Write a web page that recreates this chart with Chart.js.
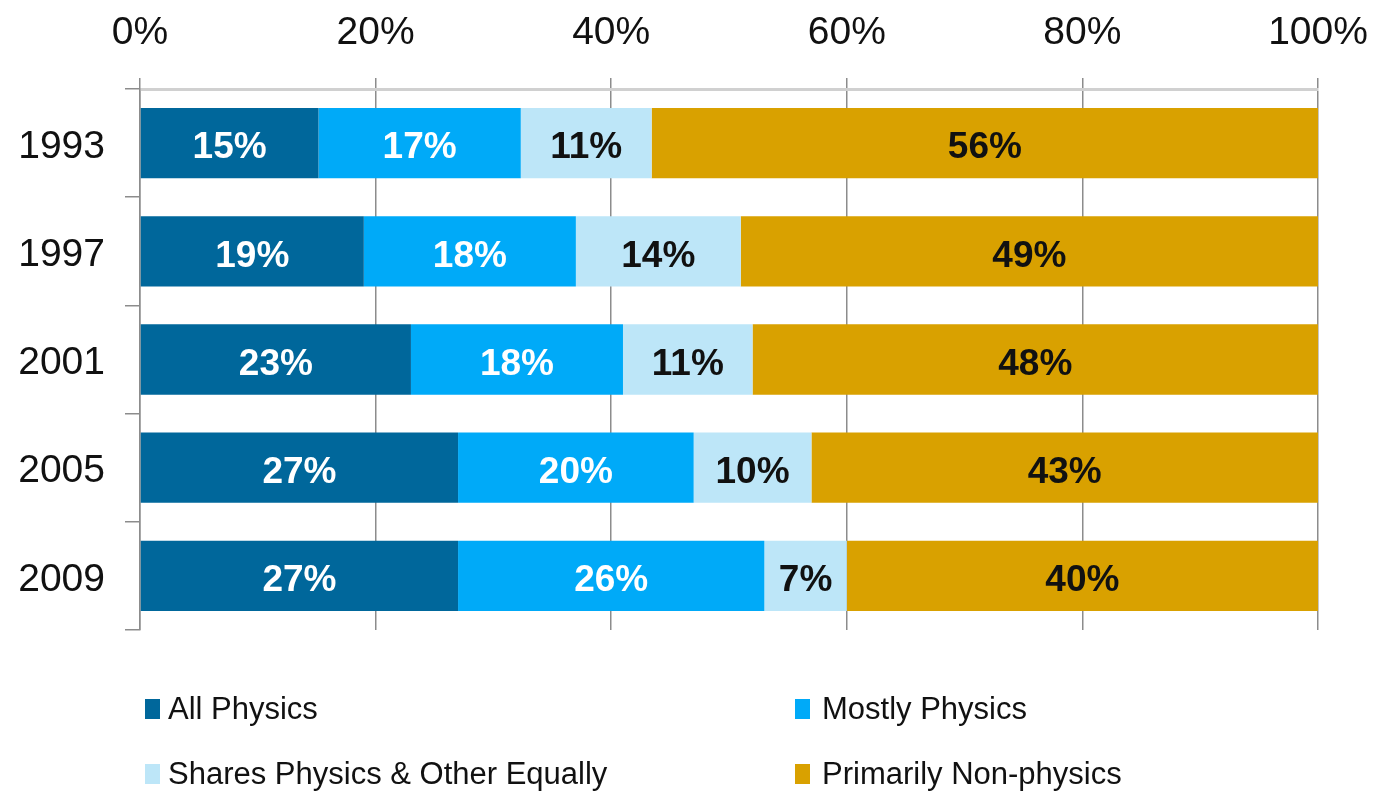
<!DOCTYPE html>
<html>
<head>
<meta charset="utf-8">
<script src="https://cdn.jsdelivr.net/npm/chart.js@4"></script>
<style>
  html, body { margin: 0; padding: 0; background: #fff; }
  #wrap { position: relative; width: 1373px; height: 795px; font-family: "Liberation Sans", Arial, sans-serif; }
  #chart { position: absolute; left: 0; top: 0; }
  .lg-box { position: absolute; width: 15px; height: 20px; }
  .lg-text { position: absolute; font-size: 31px; line-height: 36px; color: #111; white-space: nowrap; }
</style>
</head>
<body>
<div id="wrap">
  <canvas id="chart" width="1373" height="795"></canvas>
  <div id="legend"></div>
</div>
<script>
// Share of time spent on physics, by survey year (100% stacked bar)
const years = ['1993', '1997', '2001', '2005', '2009'];
const seriesNames = ['All Physics', 'Mostly Physics', 'Shares Physics & Other Equally', 'Primarily Non-physics'];
const allPhysics = [15, 19, 23, 27, 27];
const mostlyPhysics = [17, 18, 18, 20, 26];
const sharesEqually = [11, 14, 11, 10, 7];
const nonPhysics = [56, 49, 48, 43, 40];
const xTicks = [0, 20, 40, 60, 80, 100];

const colors = ['#00679b', '#00aaf8', '#bde6f8', '#d9a100'];
const labelColors = ['#ffffff', '#ffffff', '#111111', '#111111'];
const rawSeries = [allPhysics, mostlyPhysics, sharesEqually, nonPhysics];

// 100% stacked: each row is scaled to its own total, like the original
const totals = years.map((_, i) => rawSeries.reduce((s, arr) => s + arr[i], 0));

const datasets = rawSeries.map((arr, k) => ({
  label: seriesNames[k],
  data: arr.map((v, i) => v / totals[i] * 100),
  raw: arr,
  backgroundColor: colors[k],
  borderWidth: 0,
  barPercentage: 0.65,
  categoryPercentage: 1.0
}));

// draw the value labels in the middle of each segment
const segmentLabels = {
  id: 'segmentLabels',
  afterDatasetsDraw(chart) {
    const ctx = chart.ctx;
    ctx.save();
    ctx.font = 'bold 37px "Liberation Sans", Arial, sans-serif';
    ctx.textAlign = 'center';
    ctx.textBaseline = 'middle';
    chart.data.datasets.forEach((ds, k) => {
      const meta = chart.getDatasetMeta(k);
      meta.data.forEach((bar, i) => {
        const cx = (bar.x + bar.base) / 2;
        ctx.fillStyle = labelColors[k];
        ctx.fillText(ds.raw[i] + '%', cx, bar.y + 5);
      });
    });
    ctx.restore();
  }
};

const tickFont = { family: '"Liberation Sans", Arial, sans-serif', size: 39 };

const chart = new Chart(document.getElementById('chart'), {
  type: 'bar',
  data: { labels: years, datasets: datasets },
  options: {
    indexAxis: 'y',
    responsive: false,
    animation: false,
    devicePixelRatio: 1,
    layout: { padding: { left: 0, right: 55, top: 8, bottom: 165 } },
    plugins: {
      legend: { display: false },
      tooltip: { enabled: false }
    },
    scales: {
      x: {
        position: 'top',
        stacked: true,
        min: 0,
        max: 100,
        afterBuildTicks: (axis) => { axis.ticks = xTicks.map(v => ({ value: v })); },
        afterFit: (axis) => {
          axis.height = 81;
          axis.paddingLeft = 0;
          axis.paddingRight = 0;
        },
        ticks: {
          callback: (v) => v + '%',
          color: '#111',
          padding: 21,
          font: tickFont
        },
        grid: { color: '#8c8c8c', lineWidth: 1.5, tickLength: 11 },
        border: { display: true, color: '#d0d0d0', width: 3 }
      },
      y: {
        stacked: true,
        afterFit: (axis) => {
          axis.width = 140;
          axis.paddingTop = 0;
          axis.paddingBottom = 0;
        },
        ticks: {
          color: '#111',
          padding: 20,
          labelOffset: 4,
          font: tickFont
        },
        grid: { drawOnChartArea: false, color: '#8c8c8c', lineWidth: 1.5, tickLength: 15 },
        border: { display: true, color: '#8c8c8c', width: 1.5 }
      }
    }
  },
  plugins: [segmentLabels]
});

// legend in two columns below the chart
const legendPos = [
  { box: [145, 699], text: [168, 691] },
  { box: [795, 699], text: [822, 691] },
  { box: [145, 764], text: [168, 756] },
  { box: [795, 764], text: [822, 756] }
];
const legendEl = document.getElementById('legend');
seriesNames.forEach((name, k) => {
  const p = legendPos[k];
  const box = document.createElement('div');
  box.className = 'lg-box';
  box.style.left = p.box[0] + 'px';
  box.style.top = p.box[1] + 'px';
  box.style.background = colors[k];
  const txt = document.createElement('div');
  txt.className = 'lg-text';
  txt.style.left = p.text[0] + 'px';
  txt.style.top = p.text[1] + 'px';
  txt.textContent = name;
  legendEl.appendChild(box);
  legendEl.appendChild(txt);
});
</script>
</body>
</html>
